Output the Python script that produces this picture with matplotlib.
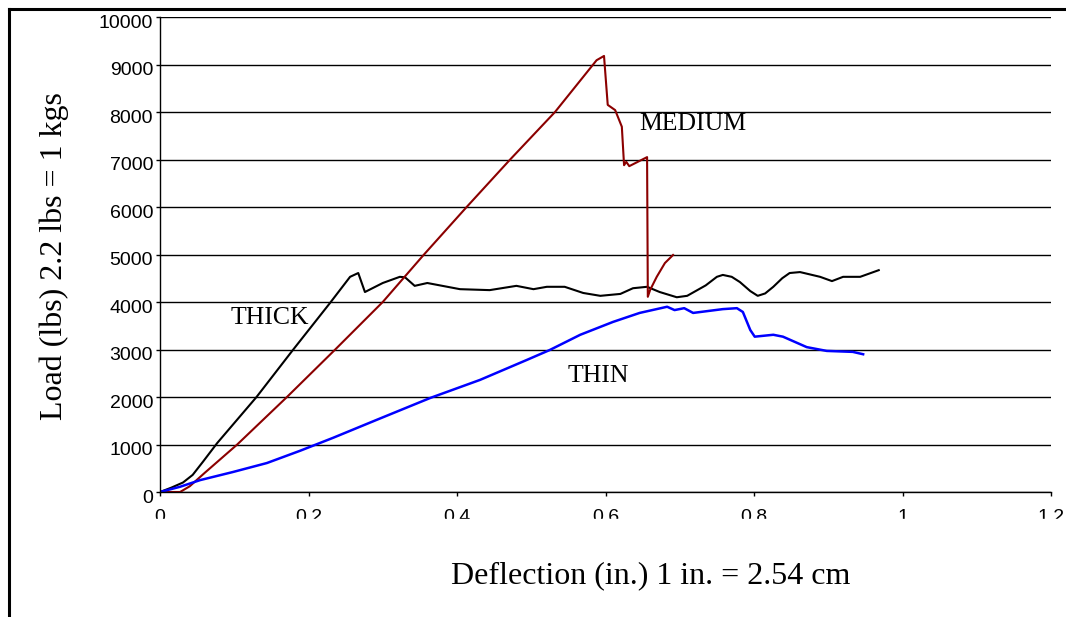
import matplotlib
matplotlib.use("Agg")
import matplotlib.pyplot as plt
import matplotlib.transforms as mtransforms
from matplotlib.lines import Line2D
from matplotlib.patches import Rectangle

# load / deflection curves
thick_x = [0, 0.015, 0.031, 0.044, 0.058, 0.077, 0.13, 0.179, 0.229, 0.256, 0.267, 0.276,
           0.300, 0.323, 0.330, 0.343, 0.36, 0.404, 0.444, 0.48, 0.503, 0.521, 0.545,
           0.57, 0.593, 0.62, 0.637, 0.656, 0.673, 0.696, 0.71, 0.735, 0.75, 0.758,
           0.77, 0.781, 0.795, 0.805, 0.815, 0.826, 0.838, 0.848, 0.862, 0.889,
           0.905, 0.92, 0.943, 0.968]
thick_y = [0, 90, 200, 360, 640, 1030, 2000, 2990, 3980, 4530, 4610, 4210,
           4400, 4530, 4520, 4340, 4400, 4270, 4250, 4340, 4270, 4320, 4320,
           4190, 4130, 4170, 4290, 4320, 4210, 4100, 4130, 4350, 4530, 4570,
           4530, 4420, 4230, 4130, 4180, 4320, 4500, 4610, 4630, 4530,
           4440, 4530, 4530, 4670]

medium_x = [0, 0.027, 0.04, 0.06, 0.104, 0.171, 0.236, 0.30, 0.355, 0.413, 0.471,
            0.532, 0.588, 0.598, 0.603, 0.613, 0.622, 0.625, 0.628, 0.632, 0.656,
            0.657, 0.66, 0.669, 0.68, 0.691]
medium_y = [0, 0, 120, 400, 1000, 2000, 3000, 4000, 4990, 6000, 6990,
            8000, 9090, 9180, 8150, 8040, 7690, 6880, 6950, 6860, 7050,
            4110, 4250, 4530, 4820, 4990]

thin_x = [0, 0.027, 0.054, 0.098, 0.144, 0.189, 0.233, 0.292, 0.364, 0.431, 0.494,
          0.525, 0.566, 0.61, 0.646, 0.683, 0.693, 0.706, 0.718, 0.758, 0.777,
          0.785, 0.795, 0.801, 0.826, 0.839, 0.871, 0.898, 0.933, 0.947]
thin_y = [0, 110, 250, 420, 610, 870, 1140, 1520, 1980, 2360, 2780,
          2990, 3310, 3580, 3770, 3900, 3830, 3870, 3770, 3850, 3870,
          3790, 3410, 3270, 3310, 3270, 3050, 2970, 2950, 2900]

x_ticks = [0, 0.2, 0.4, 0.6, 0.8, 1, 1.2]
x_tick_labels = ["0", "0.2", "0.4", "0.6", "0.8", "1", "1.2"]
y_ticks = list(range(0, 10001, 1000))

labels = ["THICK", "MEDIUM", "THIN"]
label_pos = [(0.148, 3660), (0.718, 7750), (0.59, 2440)]

serif = "Liberation Serif"
sans = "Liberation Sans"


def main():
    fig = plt.figure(figsize=(10.66, 6.17), dpi=100)
    ax = fig.add_axes([160 / 1066, 125 / 617, 891 / 1066, 475 / 617])

    ax.plot(thick_x, thick_y, color="black", lw=1.5)
    ax.plot(medium_x, medium_y, color="#8B0000", lw=1.5)
    ax.plot(thin_x, thin_y, color="#0000FF", lw=1.8)

    for txt, (lx, ly) in zip(labels, label_pos):
        ax.text(lx, ly, txt, ha="center", va="center", fontsize=18.5, family=serif)

    ax.set_xlim(0, 1.2)
    ax.set_ylim(0, 10000)
    ax.set_xticks(x_ticks)
    ax.set_xticklabels(x_tick_labels, family=sans, fontsize=14)
    ax.set_yticks(y_ticks)
    ax.set_yticklabels([str(v) for v in y_ticks], family=sans, fontsize=14)
    ax.tick_params(axis="x", direction="out", length=3, width=1, pad=9)
    ax.tick_params(axis="y", direction="out", length=3, width=1, pad=2)
    off = mtransforms.ScaledTranslation(0, -3 / 72, fig.dpi_scale_trans)
    for lab in ax.get_yticklabels():
        lab.set_transform(lab.get_transform() + off)

    ax.grid(axis="y", color="black", lw=1)
    ax.set_axisbelow(True)
    ax.spines["top"].set_visible(False)
    ax.spines["right"].set_visible(False)
    ax.spines["left"].set_linewidth(1)
    ax.spines["bottom"].set_linewidth(1)

    fig.text(54 / 1066, 1 - 256 / 617, "Load (lbs) 2.2 lbs = 1 kgs", rotation=90,
             ha="center", va="center", fontsize=23, family=serif)
    fig.text(651 / 1066, 1 - 576 / 617, "Deflection (in.) 1 in. = 2.54 cm",
             ha="center", va="center", fontsize=23, family=serif)

    # x tick labels are cut off at the bottom in the original
    fig.add_artist(Rectangle((0.02, 1 - 540 / 617), 0.98, 21 / 617,
                             transform=fig.transFigure, color="white", zorder=5))

    # frame: top and left edges only
    fig.add_artist(Line2D([9 / 1066, 1.0], [1 - 9 / 617, 1 - 9 / 617],
                          transform=fig.transFigure, color="black", lw=2.2))
    fig.add_artist(Line2D([9 / 1066, 9 / 1066], [1 - 9 / 617, 0],
                          transform=fig.transFigure, color="black", lw=2.2))

    fig.savefig("out.png", dpi=100)


if __name__ == "__main__":
    main()
